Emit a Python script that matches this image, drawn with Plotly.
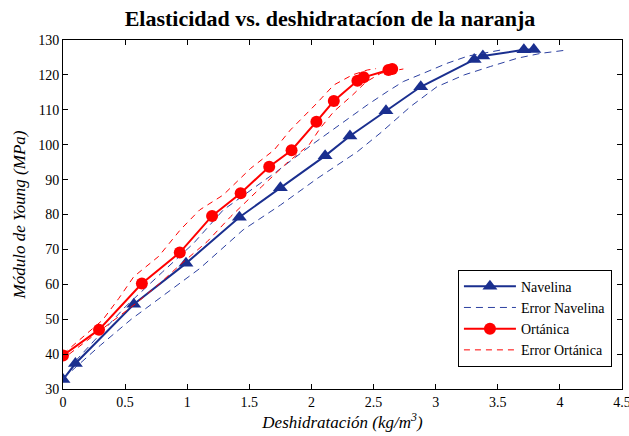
import plotly.graph_objects as go

# ---- Data ----
nav_x = [0, 0.1, 0.57, 0.99, 1.42, 1.75, 2.11, 2.31, 2.6, 2.88, 3.31, 3.38, 3.71, 3.79]
nav_y = [32.7, 37.3, 54.3, 66.0, 79.2, 87.7, 96.8, 102.5, 109.7, 116.6, 124.4, 125.4, 127.2, 127.3]

ort_x = [0, 0.29, 0.635, 0.94, 1.20, 1.43, 1.66, 1.84, 2.04, 2.18, 2.37, 2.42, 2.62, 2.65]
ort_y = [39.6, 47.0, 60.2, 69.1, 79.6, 86.1, 93.7, 98.4, 106.6, 112.5, 118.3, 119.3, 121.4, 121.7]

nav_err_up_x = [0.1, 0.5, 0.8, 1.05, 1.29, 1.535, 1.72, 2.0, 2.26, 2.45, 2.61, 2.74, 2.93, 3.09, 3.26, 3.42, 3.52]
nav_err_up_y = [38.0, 53.5, 63.5, 71.7, 81.3, 87.5, 92.3, 99.9, 106.6, 111.4, 115.2, 118.1, 120.9, 123.3, 125.4, 126.4, 127.1]

nav_err_lo_x = [0.0, 0.3, 0.55, 0.8, 1.1, 1.45, 1.75, 2.05, 2.37, 2.56, 2.80, 3.01, 3.23, 3.44, 3.66, 3.85, 4.03]
nav_err_lo_y = [33.0, 42.5, 50.0, 56.5, 64.5, 75.6, 82.7, 90.4, 98.0, 103.5, 111.0, 116.6, 120.0, 122.4, 124.8, 126.2, 127.0]

ort_err_up_x = [0.0, 0.32, 0.45, 0.57, 0.77, 0.944, 1.10, 1.29, 1.51, 1.70, 1.83, 1.95, 2.03, 2.18, 2.33, 2.45, 2.52]
ort_err_up_y = [40.0, 49.8, 56.0, 62.2, 68.0, 75.6, 81.3, 85.6, 93.2, 98.5, 104.2, 108.5, 111.4, 117.1, 120.0, 121.4, 121.8]

ort_err_lo_x = [0.05, 0.38, 0.59, 0.78, 0.94, 1.16, 1.35, 1.60, 1.80, 1.98, 2.07, 2.18, 2.33, 2.44, 2.56, 2.74]
ort_err_lo_y = [40.0, 48.8, 54.6, 60.3, 65.5, 72.2, 79.4, 88.0, 94.7, 99.9, 104.7, 109.5, 114.2, 118.0, 120.5, 121.7]

x_ticks = [0, 0.5, 1, 1.5, 2, 2.5, 3, 3.5, 4, 4.5]
x_tick_labels = ["0", "0.5", "1", "1.5", "2", "2.5", "3", "3.5", "4", "4.5"]
y_ticks = [30, 40, 50, 60, 70, 80, 90, 100, 110, 120, 130]

BLUE = "#1a2f8f"
BLUE_D = "#2c40a0"
RED = "#ff0000"
FONT = "Liberation Serif"

fig = go.Figure()

fig.add_trace(go.Scatter(
    x=nav_x, y=nav_y, mode="lines+markers", name="Navelina",
    line=dict(color=BLUE, width=2),
    marker=dict(symbol="triangle-up", size=13, color=BLUE),
))
fig.add_trace(go.Scatter(
    x=nav_err_up_x + [None] + nav_err_lo_x,
    y=nav_err_up_y + [None] + nav_err_lo_y,
    mode="lines", name="Error Navelina", connectgaps=False,
    line=dict(color=BLUE_D, width=1, dash="7px,5px"),
))
fig.add_trace(go.Scatter(
    x=ort_x, y=ort_y, mode="lines+markers", name="Ortánica",
    line=dict(color=RED, width=2),
    marker=dict(symbol="circle", size=12, color=RED),
))
fig.add_trace(go.Scatter(
    x=ort_err_up_x + [None] + ort_err_lo_x,
    y=ort_err_up_y + [None] + ort_err_lo_y,
    mode="lines", name="Error Ortánica", connectgaps=False,
    line=dict(color=RED, width=1, dash="6px,5px"),
))

axis_common = dict(
    showline=True, linecolor="black", linewidth=1, mirror="ticks",
    ticks="inside", ticklen=5, tickcolor="black", showgrid=False, zeroline=False,
    tickfont=dict(family=FONT, size=14, color="black"),
    automargin=False, ticklabeloverflow="allow",
)

fig.update_layout(
    width=629, height=436,
    margin=dict(l=63, r=7, t=40, b=47),
    paper_bgcolor="white", plot_bgcolor="white",
    font=dict(family=FONT, color="black"),
    title=dict(
        text="<b>Elasticidad vs. deshidratacíon de la naranja</b>",
        x=330 / 629, xanchor="center", y=1 - 18 / 436, yanchor="middle",
        font=dict(family=FONT, size=22, color="black"),
        automargin=False,
    ),
    xaxis=dict(
        range=[0, 4.5], tickvals=x_ticks, ticktext=x_tick_labels,
        title=dict(text="<i>Deshidratación (kg/m<sup>3</sup>)</i>",
                   font=dict(family=FONT, size=17, color="black"), standoff=4),
        **axis_common,
    ),
    yaxis=dict(
        range=[30, 130], tickvals=y_ticks,
        title=dict(text="<i>Módulo de Young (MPa)</i>",
                   font=dict(family=FONT, size=17, color="black"), standoff=8),
        **axis_common,
    ),
    legend=dict(
        x=0.982, xanchor="right", y=0.064, yanchor="bottom",
        bgcolor="white", bordercolor="black", borderwidth=1,
        font=dict(family=FONT, size=14, color="black"),
        tracegroupgap=0, itemwidth=52,
    ),
    showlegend=True,
)

fig.write_html("out.html", config={"displayModeBar": False},
               post_script="document.body.style.margin='0';")
